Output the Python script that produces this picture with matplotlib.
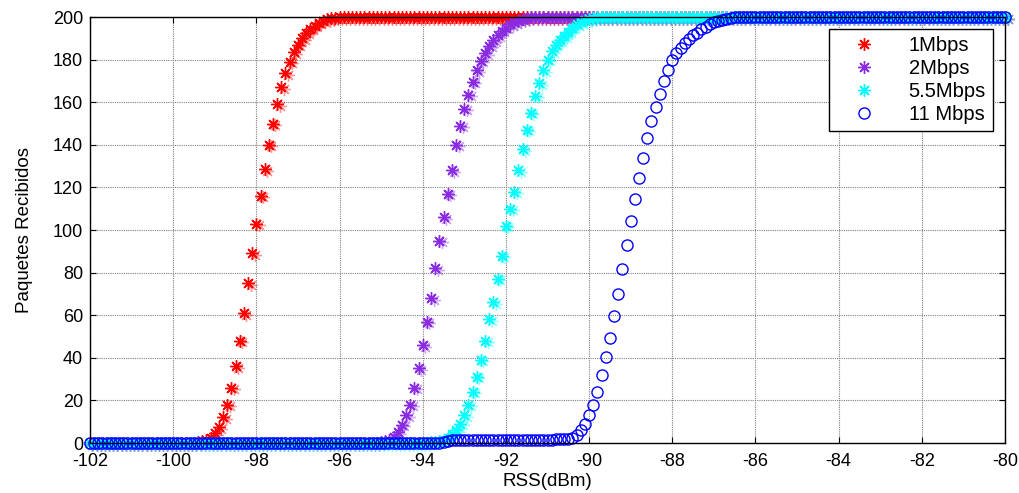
import matplotlib
matplotlib.use("Agg")
import matplotlib.pyplot as plt
import matplotlib.transforms as mtransforms
import numpy as np

plt.rcParams['font.family'] = ['Liberation Sans', 'DejaVu Sans']
plt.rcParams['axes.unicode_minus'] = False

# RSS axis: -102 .. -80 dBm in 0.1 dBm steps
rss_start = -102.0
rss_stop = -80.0
n_points = 221
rss = np.linspace(rss_start, rss_stop, n_points)
full = 200

# rising part of each curve (packets), starting at the given RSS
rise_1m_start = -99.4
rise_1m = [0.4, 0.8, 1.5, 2.5, 4.5, 7.5, 12, 18, 26, 36,
           48, 61, 75, 89, 103, 116, 128.5, 140, 150, 159,
           167, 173.5, 179, 183.5, 187, 190, 192.5, 194.5, 196, 197.3,
           198.2, 198.9, 199.4, 199.7]

rise_2m_start = -95.0
rise_2m = [0.3, 0.8, 1.5, 3, 5, 8.5, 13, 18, 26, 35,
           46, 57, 68, 82, 95, 106, 117, 128, 140, 149,
           157, 163.5, 169.5, 175, 179.5, 183, 186.5, 189, 191.5, 193.5,
           195, 196.5, 197.5, 198.3, 199, 199.5]

rise_55m_start = -93.8
rise_55m = [0.3, 0.6, 1, 1.5, 2.5, 4, 6, 9, 13, 18,
            24, 31, 39, 48, 58, 66, 77, 88, 102, 110,
            118, 128, 138, 147, 155, 163, 169, 175, 180, 184,
            187, 189, 191, 193, 195, 196.5, 197.5, 198.5, 199, 199.5]

rise_11m_start = -93.5
rise_11m = [0.5, 1, 1.2, 1.2, 1.3, 1.3, 1.3, 1.4, 1.4, 1.4,
            1.4, 1.4, 1.5, 1.5, 1.5, 1.5, 1.5, 1.5, 1.5, 1.5,
            1.5, 1.5, 1.5, 1.5, 1.6, 1.6, 1.6, 1.7, 1.8, 1.9,
            2.0, 2.2, 3.8, 6, 9, 13, 18, 24, 32, 40.5,
            49.5, 59.5, 70, 81.5, 93, 104, 114.6, 124.3, 134, 143,
            151, 157.6, 164, 170, 175, 180, 183, 185.3, 187.6, 189.5,
            191.5, 192.6, 194.2, 195.5, 196.7, 197.5, 198.2, 198.8, 199.2, 199.5,
            199.8]

labels = ['1Mbps', '2Mbps', '5.5Mbps', '11 Mbps']
colors = ['#ff0000', '#8a2be2', '#00ffff', '#0000ff']


def full_series(start, rising):
    before = int(round((start - rss_start) * 10))
    after = n_points - before - len(rising)
    return np.array([0] * before + rising + [full] * after, dtype=float)


series = [full_series(rise_1m_start, rise_1m),
          full_series(rise_2m_start, rise_2m),
          full_series(rise_55m_start, rise_55m),
          full_series(rise_11m_start, rise_11m)]

fig = plt.figure(figsize=(10.19, 4.93), dpi=100)
ax = fig.add_axes([0.0883, 0.1014, 0.898, 0.8641])

# faint offset copy of the star markers (the blurred look of the original)
ghost = mtransforms.offset_copy(ax.transData, fig=fig, x=2.5, y=-1.5, units='dots')

star = (8, 2, 0)
for i in range(3):
    ax.plot(rss, series[i], linestyle='none', marker=star, markersize=9,
            markeredgewidth=1.0, color=colors[i], alpha=0.4, transform=ghost,
            clip_on=False)
    ax.plot(rss, series[i], linestyle='none', marker=star, markersize=9,
            markeredgewidth=1.0, color=colors[i], label=labels[i], clip_on=False)
ax.plot(rss, series[3], linestyle='none', marker='o', markersize=8,
        markerfacecolor='none', markeredgewidth=1.0, color=colors[3],
        label=labels[3], clip_on=False)

ax.set_xlim(-102, -80)
ax.set_ylim(0, 200)
ax.set_xticks(np.arange(-102, -79, 2))
ax.set_yticks(np.arange(0, 201, 20))
ax.tick_params(direction='in', top=True, right=True, labelsize=13, length=4,
               width=0.8, colors='black')
ax.tick_params(axis='x', pad=7)
ax.tick_params(axis='y', pad=5)
ax.grid(True, color='0.5', linestyle=(0, (1, 1)), linewidth=0.8)
ax.set_axisbelow(True)
for sp in ax.spines.values():
    sp.set_linewidth(1.0)
    sp.set_color('black')

ax.set_xlabel('RSS(dBm)', fontsize=13.5, labelpad=2)
ax.set_ylabel('Paquetes Recibidos', fontsize=13.5, labelpad=14)

leg = ax.legend(loc='upper right', fontsize=14.5, numpoints=1, fancybox=False,
                framealpha=1, edgecolor='black', borderaxespad=0.6,
                handlelength=2.8, handletextpad=0.8, labelspacing=0.2,
                borderpad=0.35)
leg.get_frame().set_linewidth(1.0)

fig.savefig('out.png', dpi=100)
